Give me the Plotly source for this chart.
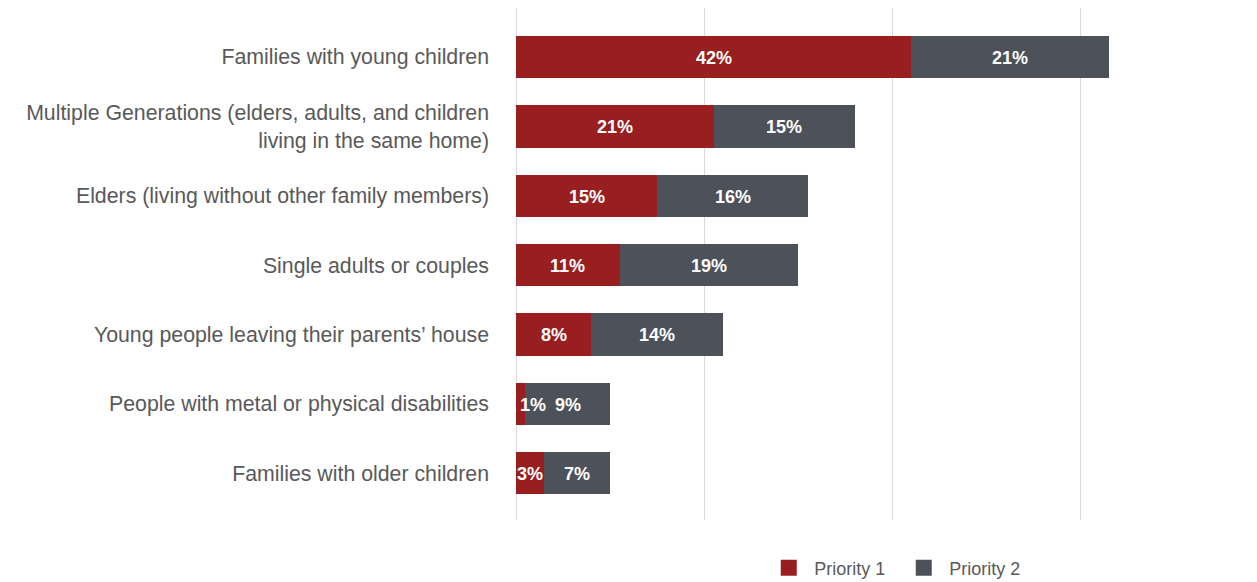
import plotly.graph_objects as go

# Household groups, listed top to bottom
categories = [
    "Families with young children",
    "Multiple Generations (elders, adults, and children<br>living in the same home)",
    "Elders (living without other family members)",
    "Single adults or couples",
    "Young people leaving their parents\u2019 house",
    "People with metal or physical disabilities",
    "Families with older children",
]
priority_1 = [42, 21, 15, 11, 8, 1, 3]
priority_2 = [21, 15, 16, 19, 14, 9, 7]
x_ticks = [0, 20, 40, 60]

RED = "#981E20"
GREY = "#4D515A"
FONT = "Liberation Sans, Arial, sans-serif"

fig = go.Figure()

fig.add_trace(go.Bar(
    y=categories, x=priority_1, orientation="h", name="Priority 1",
    marker=dict(color=RED, line=dict(width=0)), showlegend=False,
    hoverinfo="x+y",
))
fig.add_trace(go.Bar(
    y=categories, x=priority_2, orientation="h", name="Priority 2",
    marker=dict(color=GREY, line=dict(width=0)), showlegend=False,
    hoverinfo="x+y",
))

# Legend entries with larger square swatches
for name, color in [("Priority 1", RED), ("Priority 2", GREY)]:
    fig.add_trace(go.Scatter(
        x=[None], y=[None], mode="markers", name=name,
        marker=dict(symbol="square", size=19, color=color),
        showlegend=True,
    ))

# Value labels centred in each segment; very thin segments keep the label
# starting just inside the axis
label_font = dict(family=FONT, size=18, color="white")
for cat, p1, p2 in zip(categories, priority_1, priority_2):
    if p1 >= 3:
        fig.add_annotation(x=p1 / 2, y=cat, text=f"<b>{p1}%</b>", yshift=-1,
                           showarrow=False, font=label_font, xanchor="center")
    else:
        fig.add_annotation(x=0, y=cat, text=f"<b>{p1}%</b>", xshift=2, yshift=-1,
                           showarrow=False, font=label_font, xanchor="left")
    fig.add_annotation(x=p1 + p2 / 2, y=cat, text=f"<b>{p2}%</b>", yshift=-1,
                       showarrow=False, font=label_font, xanchor="center")

fig.update_layout(
    width=1257, height=582,
    barmode="stack", bargap=0.39,
    paper_bgcolor="white", plot_bgcolor="white",
    margin=dict(l=516, r=129, t=8, b=62),
    font=dict(family=FONT, color="#595959"),
    legend=dict(
        orientation="h", xref="container", yref="container",
        x=0.6072, y=0.024, xanchor="left", yanchor="middle",
        font=dict(family=FONT, size=18, color="#595959"),
        itemsizing="trace", traceorder="normal", itemwidth=41,
        entrywidth=79, entrywidthmode="pixels",
    ),
    xaxis=dict(
        range=[0, 65], tickvals=x_ticks, showticklabels=False,
        showgrid=True, gridcolor="#D9D9D9", gridwidth=1,
        zeroline=True, zerolinecolor="#D9D9D9", zerolinewidth=1,
        showline=False, fixedrange=True,
    ),
    yaxis=dict(
        categoryorder="array", categoryarray=categories,
        range=[6.674, -0.706], showgrid=False, zeroline=False,
        showline=False, ticks="", ticklabelstandoff=26,
        tickfont=dict(family=FONT, size=21.3, color="#595959"),
        fixedrange=True,
    ),
)

fig.write_html("out.html")
